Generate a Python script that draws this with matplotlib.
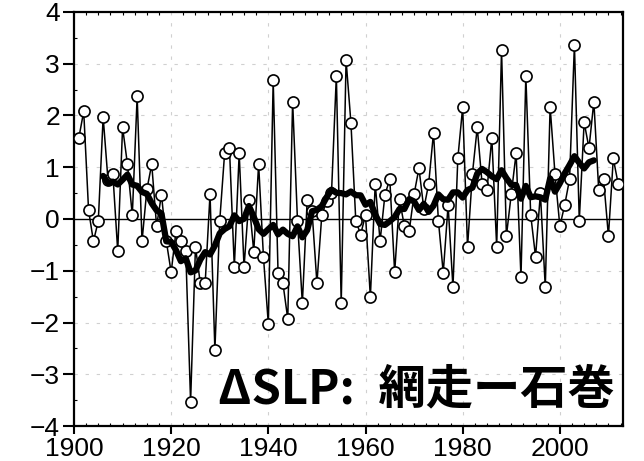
import numpy as np
import matplotlib
matplotlib.use("Agg")
import matplotlib.pyplot as plt
from matplotlib.ticker import MultipleLocator

# yearly SLP difference (Abashiri - Ishinomaki)
years = np.arange(1901, 2013)
dslp = [
    1.57, 2.08, 0.17, -0.43, -0.04, 1.97, 0.75, 0.87, -0.62, 1.77,   # 1901-1910
    1.06, 0.07, 2.37, -0.43, 0.57, 1.06, -0.14, 0.47, -0.43, -1.03,  # 1911-1920
    -0.23, -0.43, -0.62, -3.53, -0.54, -1.24, -1.24, 0.48, -2.53, -0.03,  # 1921-1930
    1.27, 1.37, -0.93, 1.27, -0.93, 0.37, -0.63, 1.06, -0.74, -2.03,  # 1931-1940
    2.68, -1.04, -1.24, -1.93, 2.27, -0.03, -1.63, 0.37, 0.15, -1.24,  # 1941-1950
    0.07, 0.35, 0.50, 2.77, -1.63, 3.07, 1.86, -0.03, -0.30, 0.08,   # 1951-1960
    -1.51, 0.68, -0.43, 0.47, 0.77, -1.03, 0.38, -0.14, -0.23, 0.48,  # 1961-1970
    0.98, 0.20, 0.68, 1.67, -0.03, -1.04, 0.27, -1.32, 1.17, 2.16,   # 1971-1980
    -0.54, 0.87, 1.77, 0.68, 0.56, 1.57, -0.54, 3.27, -0.33, 0.48,   # 1981-1990
    1.27, -1.13, 2.77, 0.08, -0.73, 0.50, -1.32, 2.17, 0.87, -0.14,  # 1991-2000
    0.27, 0.77, 3.37, -0.03, 1.87, 1.37, 2.27, 0.56, 0.77, -0.33,    # 2001-2010
    1.17, 0.68,                                                      # 2011-2012
]
dslp = np.array(dslp)

# 11-year centred running mean
win = 11
smooth = np.convolve(dslp, np.ones(win) / win, mode="valid")
smooth_years = years[win // 2: len(years) - win // 2]

xticks = [1900, 1920, 1940, 1960, 1980, 2000]
yticks = [-4, -3, -2, -1, 0, 1, 2, 3, 4]
label = "ΔSLP:\u2002網走ー石巻"

tick_font = ["Liberation Sans Narrow", "Liberation Sans", "DejaVu Sans"]

fig = plt.figure(figsize=(6.44, 4.61), dpi=100)
ax = fig.add_axes([0.1149, 0.0759, 0.8525, 0.8981])

# grid
for xv in xticks[1:]:
    ax.axvline(xv, color="#d0d0d0", lw=0.8, ls=(0, (3, 7)), zorder=0)
for yv in yticks[1:-1]:
    if yv != 0:
        ax.axhline(yv, color="#d0d0d0", lw=0.8, ls=(0, (3, 7)), zorder=0)
ax.axhline(0, color="black", lw=1.0, zorder=1)

ax.plot(years, dslp, color="black", lw=1.1, marker="o", ms=8,
        mfc="white", mec="black", mew=1.2, zorder=3)
ax.plot(smooth_years, smooth, color="black", lw=4.5, solid_joinstyle="round",
        solid_capstyle="round", zorder=4)

ax.set_xlim(1900, 2013)
ax.set_ylim(-4, 4)
ax.set_xticks(xticks)
ax.set_yticks(yticks)
ax.set_yticklabels(["\u2212%d" % -v if v < 0 else str(v) for v in yticks])
ax.xaxis.set_minor_locator(MultipleLocator(2.5))
ax.yaxis.set_minor_locator(MultipleLocator(0.5))

ax.tick_params(axis="both", which="major", direction="out", width=1.5,
               labelsize=19, pad=2)
ax.tick_params(axis="x", which="major", length=6)
ax.tick_params(axis="y", which="major", length=8)
ax.tick_params(axis="x", which="minor", direction="in", length=2.5,
               top=True, bottom=True, width=0.8)
ax.tick_params(axis="y", which="minor", direction="in", length=2.5,
               left=True, right=False, width=0.8)
for lab in ax.get_xticklabels() + ax.get_yticklabels():
    lab.set_family(tick_font)

for sp in ax.spines.values():
    sp.set_linewidth(1.6)

ax.text(0.985, 0.03, label, transform=ax.transAxes, ha="right", va="bottom",
        fontsize=34, fontweight="bold",
        family=["Noto Sans CJK JP", "DejaVu Sans"], zorder=5)

fig.savefig("out.png", dpi=100)
